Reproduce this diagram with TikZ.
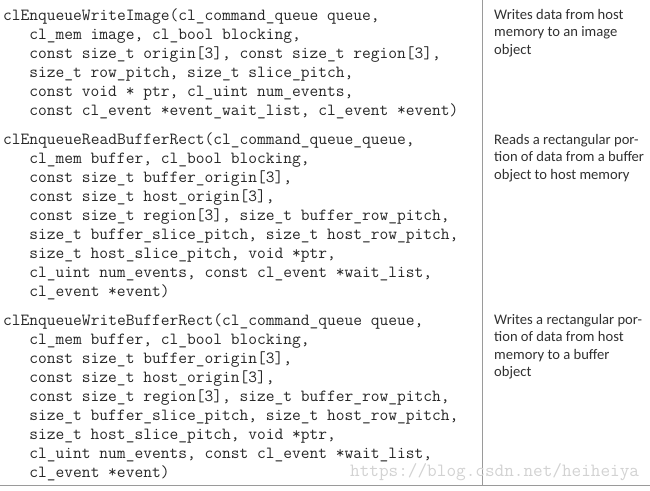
\documentclass[tikz,border=0pt]{standalone}
\usepackage{fontspec}
\usepackage{xcolor}
\newfontfamily\descfont{Carlito}
\definecolor{rulegray}{HTML}{9A9A9A}
\definecolor{codeink}{HTML}{262626}
\definecolor{descink}{HTML}{303030}
\definecolor{markgray}{HTML}{D2D2D2}
\newcommand{\ind}{\hphantom{xxx}}
\begin{document}
\begin{tikzpicture}[x=1pt,y=-1pt,
    code/.style={anchor=base west,inner sep=0pt,align=left,text=codeink,
        font=\fontsize{17}{19}\selectfont\ttfamily},
    desc/.style={anchor=base west,inner sep=0pt,align=left,text=descink,
        font=\fontsize{14.6}{17.5}\selectfont\descfont},
    wmark/.style={anchor=base west,inner sep=0pt,text=markgray,
        font=\fontsize{18.7}{20}\selectfont\ttfamily}]
    \useasboundingbox (0,0) rectangle (650,490);

    % table rules
    \coordinate (coltop) at (482.5,0);
    \coordinate (colbot) at (482.5,485);
    \coordinate (botleft) at (0,485);
    \coordinate (botright) at (650,485);
    \draw[rulegray,line width=1pt] (coltop) -- (colbot);
    \draw[rulegray,line width=1pt] (botleft) -- (botright);

    % function signatures (placed at the baseline of their last line)
    \node[code] (writeimg) at (3,115) {clEnqueueWriteImage(cl\_command\_queue queue,\\
        \ind cl\_mem image, cl\_bool blocking,\\
        \ind const size\_t origin[3], const size\_t region[3],\\
        \ind size\_t row\_pitch, size\_t slice\_pitch,\\
        \ind const void * ptr, cl\_uint num\_events,\\
        \ind const cl\_event *event\_wait\_list, cl\_event *event)};
    \node[code] (readrect) at (3,296) {clEnqueueReadBufferRect(cl\_command\_queue\_queue,\\
        \ind cl\_mem buffer, cl\_bool blocking,\\
        \ind const size\_t buffer\_origin[3],\\
        \ind const size\_t host\_origin[3],\\
        \ind const size\_t region[3], size\_t buffer\_row\_pitch,\\
        \ind size\_t buffer\_slice\_pitch, size\_t host\_row\_pitch,\\
        \ind size\_t host\_slice\_pitch, void *ptr,\\
        \ind cl\_uint num\_events, const cl\_event *wait\_list,\\
        \ind cl\_event *event)};
    \node[code] (writerect) at (3,477) {clEnqueueWriteBufferRect(cl\_command\_queue queue,\\
        \ind cl\_mem buffer, cl\_bool blocking,\\
        \ind const size\_t buffer\_origin[3],\\
        \ind const size\_t host\_origin[3],\\
        \ind const size\_t region[3], size\_t buffer\_row\_pitch,\\
        \ind size\_t buffer\_slice\_pitch, size\_t host\_row\_pitch,\\
        \ind size\_t host\_slice\_pitch, void *ptr,\\
        \ind cl\_uint num\_events, const cl\_event *wait\_list,\\
        \ind cl\_event *event)};

    % descriptions
    \node[desc] (writeimgtxt) at (494,54) {Writes data from host\\memory to an image\\object};
    \node[desc] (readrecttxt) at (494,179) {Reads a rectangular por-\\tion of data from a buffer\\object to host memory};
    \node[desc] (writerecttxt) at (494,376.5) {Writes a rectangular por-\\tion of data from host\\memory to a buffer\\object};

    \node[wmark] (mark) at (350,476) {https://blog.csdn.net/heiheiya};
\end{tikzpicture}
\end{document}
